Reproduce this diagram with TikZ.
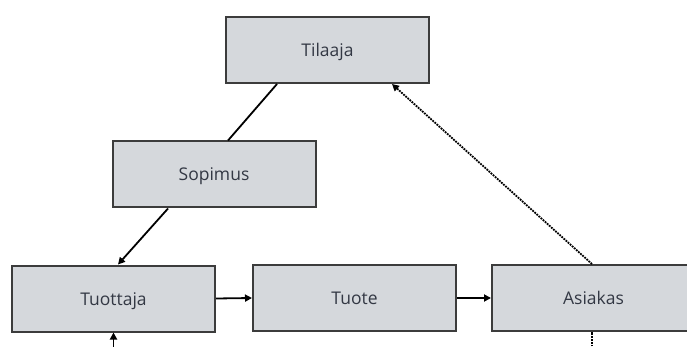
\documentclass[tikz,border=0pt]{standalone}
\usepackage{fontspec}
\setmainfont{Open Sans}
\usetikzlibrary{arrows.meta}
\definecolor{boxfill}{HTML}{D5D8DC}
\definecolor{boxline}{HTML}{3C3C3C}
\definecolor{boxtext}{HTML}{333844}
\begin{document}
\begin{tikzpicture}[x=1pt,y=-1pt,
  stepbox/.style={draw=boxline, fill=boxfill, line width=2pt,
    minimum width=203pt, minimum height=66pt, inner sep=0pt,
    text height=13pt, text depth=0pt,
    text=boxtext, font=\fontsize{17.5}{20}\selectfont},
  link/.style={line width=1.8pt, black},
  flow/.style={link, -{Triangle[length=7pt,width=7pt]}},
  dotflow/.style={flow, dash pattern=on 1.8pt off 1pt}]
\useasboundingbox (0,0) rectangle (687,347);
\clip (0,0) rectangle (687,347);

\node[stepbox] (tilaaja)  at (327.5,50)  {Tilaaja};
\node[stepbox] (sopimus)  at (214,174.5) {Sopimus};
\node[stepbox] (tuottaja) at (113.5,298.5) {Tuottaja};
\node[stepbox] (tuote)    at (354.5,298) {Tuote};
\node[stepbox] (asiakas)  at (593.5,298) {Asiakas};

\coordinate (inTuottaja) at (113.5,352);
\coordinate (outAsiakas) at (592,352);

\draw[link] ([xshift=-50.5pt]tilaaja.south) -- ([xshift=14pt]sopimus.north);
\draw[flow] ([xshift=-46pt]sopimus.south) -- ([xshift=4.5pt]tuottaja.north);
\draw[flow] (tuottaja.east) -- (tuote.west);
\draw[flow] (tuote.east) -- (asiakas.west);
\draw[dotflow] ([xshift=-1.5pt]asiakas.north) -- ([xshift=64.5pt]tilaaja.south);
\draw[flow] (inTuottaja) -- (tuottaja.south);
\draw[link, dash pattern=on 1.8pt off 1pt] (outAsiakas) -- ([xshift=-1.5pt]asiakas.south);
\end{tikzpicture}
\end{document}
